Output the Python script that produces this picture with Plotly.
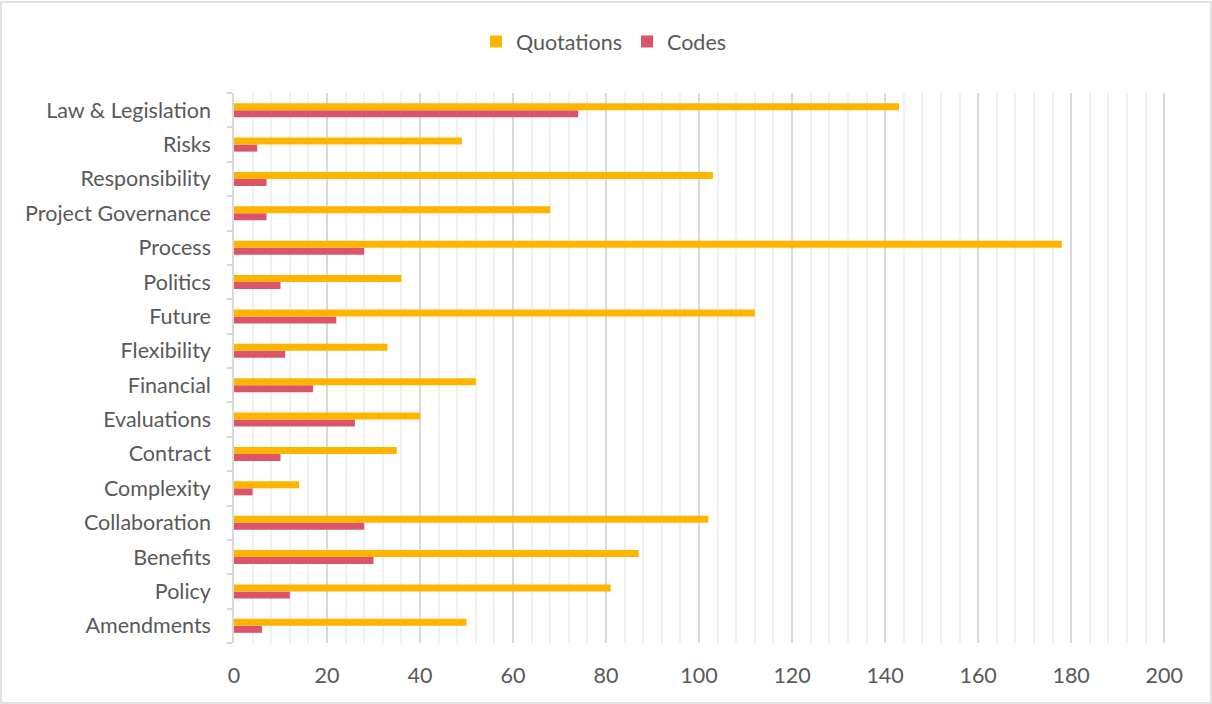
import plotly.graph_objects as go

categories = ["Amendments", "Policy", "Benefits", "Collaboration", "Complexity", "Contract",
              "Evaluations", "Financial", "Flexibility", "Future", "Politics", "Process",
              "Project Governance", "Responsibility", "Risks", "Law & Legislation"]
quotations = [50, 81, 87, 102, 14, 35, 40, 52, 33, 112, 36, 178, 68, 103, 49, 143]
codes = [6, 12, 30, 28, 4, 10, 26, 17, 11, 22, 10, 28, 7, 7, 5, 74]
x_ticks = [0, 20, 40, 60, 80, 100, 120, 140, 160, 180, 200]

FONT = "Lato"
TXT = "#595959"
FS = 21.5

fig = go.Figure()
fig.add_trace(go.Bar(y=categories, x=codes, orientation="h", name="Codes",
                     marker=dict(color="#DC546A", line=dict(width=0)), legendrank=2))
fig.add_trace(go.Bar(y=categories, x=quotations, orientation="h", name="Quotations",
                     marker=dict(color="#FFB500", line=dict(width=0)), legendrank=1))

L, R, T, B = 234, 46, 93, 61
pw = 1212 - L - R
ph = 704 - T - B

fig.update_layout(
    width=1212, height=704,
    margin=dict(l=L, r=R, t=T, b=B),
    paper_bgcolor="white", plot_bgcolor="white",
    barmode="group", bargap=0.59, bargroupgap=0,
    font=dict(family=FONT, size=FS, color=TXT),
    legend=dict(orientation="h", x=(604 - L) / pw, xanchor="center", y=1 + (T - 21) / ph,
                yanchor="top", font=dict(size=FS, color=TXT), tracegroupgap=0),
    showlegend=True,
    xaxis=dict(range=[0, 200.4], tickvals=x_ticks, showgrid=True, gridcolor="#D9D9D9",
               gridwidth=1.5, zeroline=False, showline=False, ticks="",
               minor=dict(dtick=4, showgrid=True, gridcolor="#F0F0F0", gridwidth=1.5),
               tickfont=dict(size=FS, color=TXT), ticklabelstandoff=17),
    yaxis=dict(categoryorder="array", categoryarray=categories, showline=True,
               linecolor="#D9D9D9", linewidth=1.5, ticks="outside", tickson="boundaries",
               ticklen=5, tickcolor="#D9D9D9", tickwidth=1.5, showgrid=False,
               tickfont=dict(size=FS, color=TXT), ticklabelstandoff=17),
)

# outer chart border
fig.add_shape(type="rect", xref="paper", yref="paper",
              x0=(1 - L) / pw, x1=(1211 - L) / pw,
              y0=-(B - 1) / ph, y1=1 + (T - 2) / ph,
              line=dict(color="#D9D9D9", width=1.5), fillcolor="rgba(0,0,0,0)", layer="below")

fig.write_html("out.html")
